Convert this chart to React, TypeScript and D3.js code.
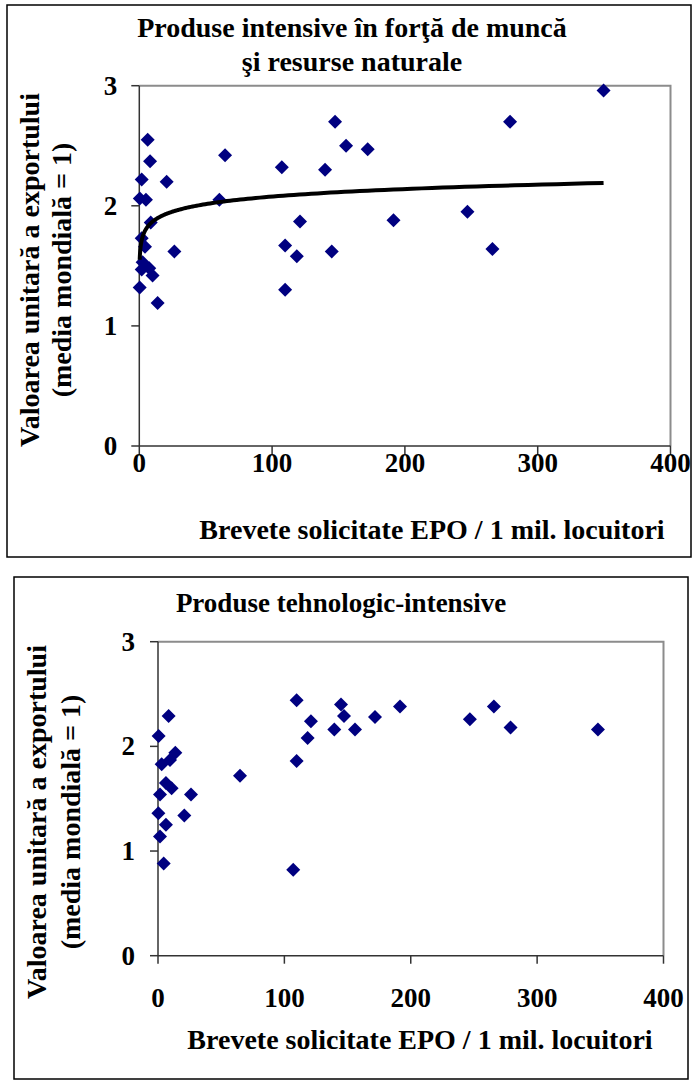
import React from "react";
import * as d3 from "d3";

// ---------- data ----------
const xTicks = [0, 100, 200, 300, 400];
const yTicks = [0, 1, 2, 3];

const chart1Title = ["Produse intensive în forţă de muncă", "şi resurse naturale"];
const chart2Title = ["Produse tehnologic-intensive"];
const yTitleLines = ["Valoarea unitară a exportului", "(media mondială = 1)"];
const xTitle = "Brevete solicitate EPO / 1 mil. locuitori";

const chart1X = [6.3, 8.1, 1.8, 20.6, 0.4, 5.0, 64.6, 60.3, 8.6, 1.8, 4.3, 26.4, 2.5, 1.8, 7.5, 10, 0.3, 13.8, 107.3, 109.8, 118.6, 121, 109.8, 147.4, 155.7, 139.9, 144.9, 172, 191.4, 349.6, 279.2, 247.1, 265.9];
const chart1Y = [2.55, 2.37, 2.22, 2.2, 2.06, 2.05, 2.42, 2.05, 1.86, 1.73, 1.66, 1.62, 1.53, 1.47, 1.48, 1.42, 1.32, 1.19, 2.32, 1.67, 1.58, 1.87, 1.3, 2.7, 2.5, 2.3, 1.62, 2.47, 1.88, 2.96, 2.7, 1.95, 1.64];

const chart2X = [8.4, 0.5, 13.7, 9.5, 2.9, 6.3, 10.8, 1.6, 26.1, 0.3, 20.8, 6.3, 1.6, 4.5, 64.9, 109.7, 109.7, 107, 121, 118.4, 144.8, 147.2, 139.5, 155.9, 171.7, 191.5, 246.8, 265.8, 279, 348.1];
const chart2Y = [2.29, 2.1, 1.94, 1.87, 1.83, 1.65, 1.6, 1.54, 1.54, 1.36, 1.34, 1.25, 1.14, 0.88, 1.72, 2.44, 1.86, 0.82, 2.24, 2.08, 2.4, 2.29, 2.16, 2.16, 2.28, 2.38, 2.26, 2.38, 2.18, 2.16];

// logarithmic trendline of chart 1: y = a + b * ln(x)
const trend1 = [1.66, 0.0905];

// ---------- layout ----------
const FONT = "'Liberation Serif', 'Times New Roman', serif";
const NAVY = "#000080";

type Cfg = {
  frame: [number, number, number, number];
  plot: { l: number; r: number; t: number; b: number };
  title: string[];
  titleX: number;
  titleY: number[];
  titleSize: number;
  yTitleX: number[];
  yTitleCY: number;
  xTitleX: number;
  xTitleY: number;
  tickLabelY: number;
  yLabelGap: number;
};

const cfg1: Cfg = {
  frame: [7, 5, 691, 557],
  plot: { l: 139.3, r: 670.5, t: 85.7, b: 446 },
  title: chart1Title,
  titleX: 352,
  titleY: [37, 71],
  titleSize: 28,
  yTitleX: [39, 71],
  yTitleCY: 270,
  xTitleX: 432,
  xTitleY: 539,
  tickLabelY: 472,
  yLabelGap: 22,
};

const cfg2: Cfg = {
  frame: [14, 577, 688, 1079],
  plot: { l: 158, r: 663.5, t: 641.7, b: 955.7 },
  title: chart2Title,
  titleX: 341,
  titleY: [612],
  titleSize: 27,
  yTitleX: [46, 80],
  yTitleCY: 822,
  xTitleX: 420,
  xTitleY: 1049,
  tickLabelY: 1007,
  yLabelGap: 23,
};

const diamond = d3.symbol(d3.symbolSquare, 98)();

function Panel({ cfg, xs, ys, trend }: { cfg: Cfg; xs: number[]; ys: number[]; trend?: number[] }) {
  const { plot } = cfg;
  const x = d3.scaleLinear().domain([0, 400]).range([plot.l, plot.r]);
  const y = d3.scaleLinear().domain([0, 3]).range([plot.b, plot.t]);

  let trendPath: string | null = null;
  if (trend) {
    const xmin = d3.min(xs.filter((v) => v > 0)) as number;
    const xmax = d3.max(xs) as number;
    const lx = d3.scaleLinear().domain([0, 199]).range([Math.log(xmin), Math.log(xmax)]);
    const pts = d3.range(200).map((i) => Math.exp(lx(i)));
    trendPath = d3
      .line<number>()
      .x((d) => x(d))
      .y((d) => y(trend[0] + trend[1] * Math.log(d)))(pts);
  }

  const [fx1, fy1, fx2, fy2] = cfg.frame;
  return (
    <g fontFamily={FONT} fontWeight="bold" fill="#000">
      <rect x={fx1} y={fy1} width={fx2 - fx1} height={fy2 - fy1} fill="#fff" stroke="#000" strokeWidth={1.5} />
      {cfg.title.map((t, i) => (
        <text key={i} x={cfg.titleX} y={cfg.titleY[i]} textAnchor="middle" fontSize={cfg.titleSize}>
          {t}
        </text>
      ))}
      {/* plot area border (gray top/right) */}
      <path
        d={`M${plot.l},${plot.t}H${plot.r}V${plot.b}`}
        fill="none"
        stroke="#8c8c8c"
        strokeWidth={2}
      />
      {/* axes */}
      <line x1={plot.l} x2={plot.l} y1={plot.t} y2={plot.b} stroke="#333" strokeWidth={1.5} />
      <line x1={plot.l} x2={plot.r} y1={plot.b} y2={plot.b} stroke="#333" strokeWidth={1.5} />
      {yTicks.map((t) => (
        <g key={"y" + t}>
          <line x1={plot.l - 8} x2={plot.l} y1={y(t)} y2={y(t)} stroke="#333" strokeWidth={1.5} />
          <text x={plot.l - cfg.yLabelGap} y={y(t) + 9} textAnchor="end" fontSize={27}>
            {t}
          </text>
        </g>
      ))}
      {xTicks.map((t) => (
        <g key={"x" + t}>
          <line x1={x(t)} x2={x(t)} y1={plot.b} y2={plot.b + 8} stroke="#333" strokeWidth={1.5} />
          <text x={x(t)} y={cfg.tickLabelY} textAnchor="middle" fontSize={27}>
            {t}
          </text>
        </g>
      ))}
      {/* points */}
      {xs.map((v, i) => (
        <path
          key={i}
          d={diamond as string}
          transform={`translate(${x(v)},${y(ys[i])}) rotate(45)`}
          fill={NAVY}
        />
      ))}
      {trendPath && <path d={trendPath} fill="none" stroke="#000" strokeWidth={4} />}
      {/* axis titles */}
      {yTitleLines.map((t, i) => (
        <text
          key={"yt" + i}
          transform={`translate(${cfg.yTitleX[i]},${cfg.yTitleCY}) rotate(-90)`}
          textAnchor="middle"
          fontSize={28}
        >
          {t}
        </text>
      ))}
      <text x={cfg.xTitleX} y={cfg.xTitleY} textAnchor="middle" fontSize={28}>
        {xTitle}
      </text>
    </g>
  );
}

export default function App() {
  return (
    <svg
      width={692}
      height={1081}
      style={{ position: "absolute", left: 0, top: 0, background: "#fff" }}
    >
      <rect width={692} height={1081} fill="#fff" />
      <Panel cfg={cfg1} xs={chart1X} ys={chart1Y} trend={trend1} />
      <Panel cfg={cfg2} xs={chart2X} ys={chart2Y} />
    </svg>
  );
}
